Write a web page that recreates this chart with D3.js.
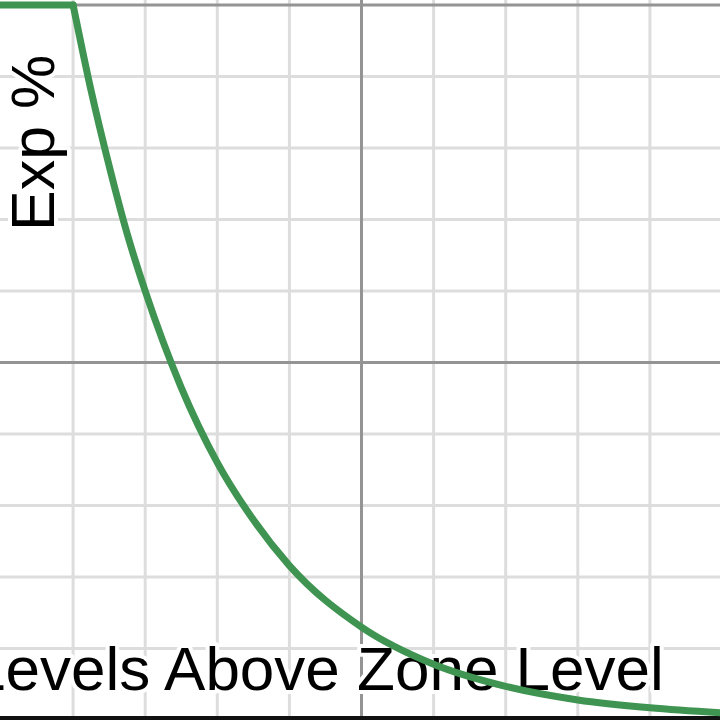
<!DOCTYPE html>
<html>
<head>
<meta charset="utf-8">
<script src="https://cdn.jsdelivr.net/npm/d3@7"></script>
<style>
  html, body { margin: 0; padding: 0; background: #fff; }
  svg { display: block; }
</style>
</head>
<body>
<div class="chart"></div>
<script>
// Exp % by levels above zone level
const levels = [0, 1, 1.25, 1.5, 1.75, 2, 2.5, 3, 3.5, 4, 5, 6, 7, 8, 9, 10];
const expPct = [100, 100, 88, 77.5, 68, 60, 46.5, 36, 28, 21.6, 13, 7.8, 4.7, 2.8, 1.7, 1.0];

const xLabel = "Levels Above Zone Level";
const yLabel = "Exp %";

const width = 720, height = 720;

const svg = d3.select(".chart").append("svg")
  .attr("width", width)
  .attr("height", height);

const x = d3.scaleLinear().domain([0, 10]).range([1, 722]);
const y = d3.scaleLinear().domain([0, 100]).range([720, 5]);

const pts = levels.map((l, i) => ({ l, v: expPct[i] }));

// minor grid
const grid = svg.append("g");
grid.selectAll(".vminor")
  .data(x.ticks(10).filter(d => d % 5 !== 0))
  .enter().append("line")
  .attr("x1", d => x(d)).attr("x2", d => x(d))
  .attr("y1", 0).attr("y2", height)
  .attr("stroke", "#dddddd").attr("stroke-width", 3);

grid.selectAll(".hminor")
  .data(y.ticks(10).filter(d => d % 50 !== 0))
  .enter().append("line")
  .attr("x1", 0).attr("x2", width)
  .attr("y1", d => y(d)).attr("y2", d => y(d))
  .attr("stroke", "#dddddd").attr("stroke-width", 3);

// major grid
grid.selectAll(".vmajor")
  .data([5])
  .enter().append("line")
  .attr("x1", d => x(d)).attr("x2", d => x(d))
  .attr("y1", 0).attr("y2", height)
  .attr("stroke", "#949494").attr("stroke-width", 3);

grid.selectAll(".hmajor")
  .data([50, 100])
  .enter().append("line")
  .attr("x1", 0).attr("x2", width)
  .attr("y1", d => y(d)).attr("y2", d => y(d))
  .attr("stroke", "#949494").attr("stroke-width", 3);

// x axis
svg.append("line")
  .attr("x1", 0).attr("x2", width)
  .attr("y1", y(0)).attr("y2", y(0))
  .attr("stroke", "#111").attr("stroke-width", 8);

// labels with white halo, under the curve
const labels = svg.append("g")
  .attr("font-family", "'Liberation Sans', Arial, sans-serif")
  .attr("fill", "#000")
  .attr("stroke", "#fff")
  .attr("stroke-width", 8)
  .attr("stroke-linejoin", "round")
  .attr("paint-order", "stroke");

labels.append("text")
  .attr("x", -29)
  .attr("y", 690)
  .attr("font-size", 62)
  .text(xLabel);

labels.append("text")
  .attr("transform", "translate(54,231) rotate(-90)")
  .attr("font-size", 61)
  .text(yLabel);

// curve: flat cap at 100 then the decay
const line = d3.line()
  .x(d => x(d.l))
  .y(d => y(d.v));

svg.append("path")
  .datum(pts.slice(0, 2))
  .attr("d", line)
  .attr("fill", "none")
  .attr("stroke", "#3e9450")
  .attr("stroke-width", 7)
  .attr("stroke-linecap", "round");

svg.append("path")
  .datum(pts.slice(1))
  .attr("d", line.curve(d3.curveMonotoneX))
  .attr("fill", "none")
  .attr("stroke", "#3e9450")
  .attr("stroke-width", 7)
  .attr("stroke-linecap", "round")
  .attr("stroke-linejoin", "round");
</script>
</body>
</html>
